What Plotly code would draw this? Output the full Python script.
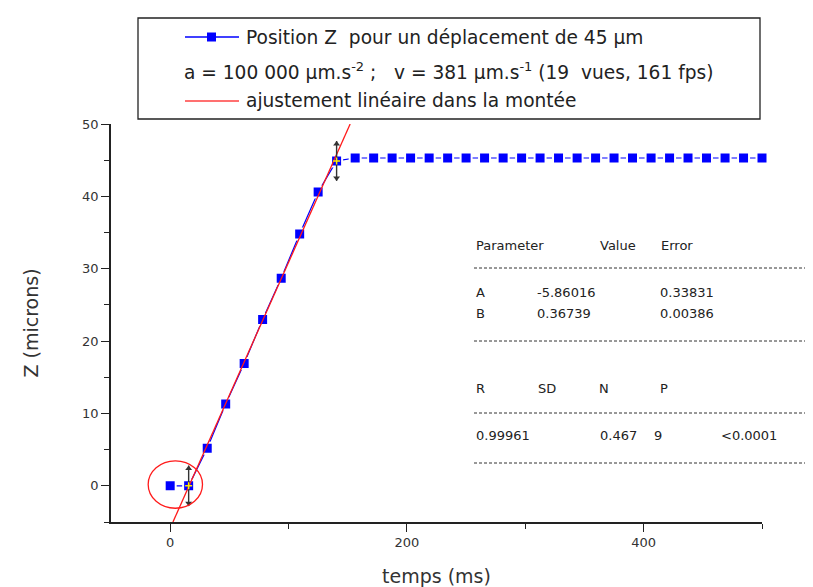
import plotly.graph_objects as go

# ---------------- data ----------------
temps_ms = [0, 15.6, 31.3, 46.9, 62.5, 78.1, 93.8, 109.4, 125, 140.6,
            156.3, 171.9, 187.5, 203.1, 218.8, 234.4, 250, 265.6, 281.3, 296.9,
            312.5, 328.1, 343.8, 359.4, 375, 390.6, 406.3, 421.9, 437.5, 453.1,
            468.8, 484.4, 500]
position_z = [0, 0, 5.2, 11.3, 16.9, 23.0, 28.7, 34.8, 40.6, 44.9,
              45.3, 45.3, 45.3, 45.3, 45.3, 45.3, 45.3, 45.3, 45.3, 45.3,
              45.3, 45.3, 45.3, 45.3, 45.3, 45.3, 45.3, 45.3, 45.3, 45.3,
              45.3, 45.3, 45.3]
# linear fit in the rise
fit_A = -5.86016
fit_B = 0.36739
fit_z_span = [-5, 50]
# highlighted points (start / end of rise) and their uncertainty
marked_t = [15.6, 140.6]
marked_z = [0, 44.9]
marked_err = [2.8, 2.75]
# red circle around the start (data units)
circle_t = [-18.6, 27.3]
circle_z = [-3.1, 3.45]

table_header = ["Parameter", "Value", "Error"]
table_rows = [["A", "-5.86016", "0.33831"], ["B", "0.36739", "0.00386"]]
stats_header = ["R", "SD", "N", "P"]
stats_values = ["0.99961", "0.467", "9", "<0.0001"]

FONT = "DejaVu Sans, Verdana, sans-serif"
W, H = 813, 587
ML, MR, MT, MB = 103, 59, 116, 73
PW, PH = W - ML - MR, H - MT - MB


def px(x):
    return (x - ML) / PW


def py(y):
    return (H - MB - y) / PH


fit_t = [(z - fit_A) / fit_B for z in fit_z_span]

fig = go.Figure()
fig.add_trace(go.Scatter(
    x=temps_ms, y=position_z, mode="lines+markers",
    line=dict(color="#0000ff", width=1.2),
    marker=dict(symbol="square", size=11, color="#0000ff",
                line=dict(color="white", width=2)),
    showlegend=False, cliponaxis=False))
fig.add_trace(go.Scatter(
    x=fit_t, y=fit_z_span, mode="lines",
    line=dict(color="#ff1a1a", width=1.3), showlegend=False))
# double-headed uncertainty arrows on the start / end points of the rise
fig.add_trace(go.Scatter(
    x=marked_t, y=marked_z, mode="markers",
    marker=dict(symbol="cross-thin", size=5, line=dict(color="#ffee00", width=1.5)),
    error_y=dict(type="data", array=marked_err, visible=True, width=0,
                 thickness=1.4, color="#333333"),
    showlegend=False))
fig.add_trace(go.Scatter(
    x=marked_t, y=[z + e - 0.4 for z, e in zip(marked_z, marked_err)], mode="markers",
    marker=dict(symbol="triangle-up", size=6, color="#333333"), showlegend=False))
fig.add_trace(go.Scatter(
    x=marked_t, y=[z - e + 0.4 for z, e in zip(marked_z, marked_err)], mode="markers",
    marker=dict(symbol="triangle-down", size=6, color="#333333"), showlegend=False))

annotations = []
shapes = [dict(type="circle", xref="x", yref="y", x0=circle_t[0], x1=circle_t[1],
               y0=circle_z[0], y1=circle_z[1], line=dict(color="#ff1a1a", width=1.3))]

# ---- legend box (drawn) ----
shapes.append(dict(type="rect", xref="paper", yref="paper", x0=px(130), x1=px(752),
                   y0=py(111), y1=py(10), line=dict(color="#222222", width=1.3),
                   fillcolor="white", layer="above"))
shapes.append(dict(type="line", xref="paper", yref="paper", x0=px(177), x1=px(231),
                   y0=py(29), y1=py(29), line=dict(color="#0000ff", width=1.3)))
shapes.append(dict(type="rect", xref="paper", yref="paper", x0=px(199), x1=px(208),
                   y0=py(33.5), y1=py(24.5), line=dict(color="#0000ff", width=0),
                   fillcolor="#0000ff"))
shapes.append(dict(type="line", xref="paper", yref="paper", x0=px(177), x1=px(231),
                   y0=py(93), y1=py(93), line=dict(color="#ff4040", width=1.3)))

leg_font = dict(family=FONT, size=18.6, color="#222222")
annotations.append(dict(xref="paper", yref="paper", x=px(236), y=py(29), xanchor="left",
                        yanchor="middle", showarrow=False, font=leg_font,
                        text="Position Z\u00a0 pour un déplacement de 45 µm"))
annotations.append(dict(xref="paper", yref="paper", x=px(174), y=py(63), xanchor="left",
                        yanchor="middle", showarrow=False, font=leg_font,
                        text="a = 100 000 µm.s<sup>-2</sup> ;\u00a0\u00a0 v = 381 µm.s<sup>-1</sup> (19\u00a0 vues, 161 fps)"))
annotations.append(dict(xref="paper", yref="paper", x=px(236), y=py(93), xanchor="left",
                        yanchor="middle", showarrow=False, font=leg_font,
                        text="ajustement linéaire dans la montée"))

# ---- fit results table ----
tab_font = dict(family=FONT, size=13, color="#222222")


def tab_text(x, y, s):
    annotations.append(dict(xref="paper", yref="paper", x=px(x), y=py(y), xanchor="left",
                            yanchor="middle", showarrow=False, font=tab_font, text=s))


def dash_line(y):
    shapes.append(dict(type="line", xref="paper", yref="paper", x0=px(466), x1=px(813),
                       y0=py(y), y1=py(y), line=dict(color="#333333", width=1, dash="3px,2px")))


cols3 = [466, 590, 651]
for x, s in zip(cols3, table_header):
    tab_text(x, 237, s)
dash_line(260)
row_cols = [466, 527, 650]
for y, row in zip([284, 305], table_rows):
    for x, s in zip(row_cols, row):
        tab_text(x, y, s)
dash_line(333)
for x, s in zip([466, 528, 589, 650], stats_header):
    tab_text(x, 380, s)
dash_line(405)
for x, s in zip([466, 590, 644, 711], stats_values):
    tab_text(x, 427, s)
dash_line(455)

axis_common = dict(showgrid=False, zeroline=False, showline=True, linecolor="#222222",
                   linewidth=1.5, ticks="outside", ticklen=8, tickwidth=1.3,
                   tickcolor="#222222", tickfont=dict(family=FONT, size=13, color="#333333"),
                   mirror=False)
fig.update_layout(
    width=W, height=H, margin=dict(l=ML, r=MR, t=MT, b=MB),
    paper_bgcolor="white", plot_bgcolor="white",
    xaxis=dict(range=[-50, 500], tick0=0, dtick=200,
               minor=dict(dtick=100, tick0=0, ticks="outside", ticklen=5, tickcolor="#222222"),
               title=dict(text="temps (ms)", font=dict(family=FONT, size=19, color="#333333"),
                          standoff=20),
               **axis_common),
    yaxis=dict(range=[-5, 50], tick0=0, dtick=10,
               minor=dict(dtick=5, tick0=0, ticks="outside", ticklen=5, tickcolor="#222222"),
               title=dict(text="Z (microns)", font=dict(family=FONT, size=19, color="#333333"),
                          standoff=38),
               **axis_common),
    shapes=shapes, annotations=annotations, showlegend=False,
)

fig.write_html("out.html")
